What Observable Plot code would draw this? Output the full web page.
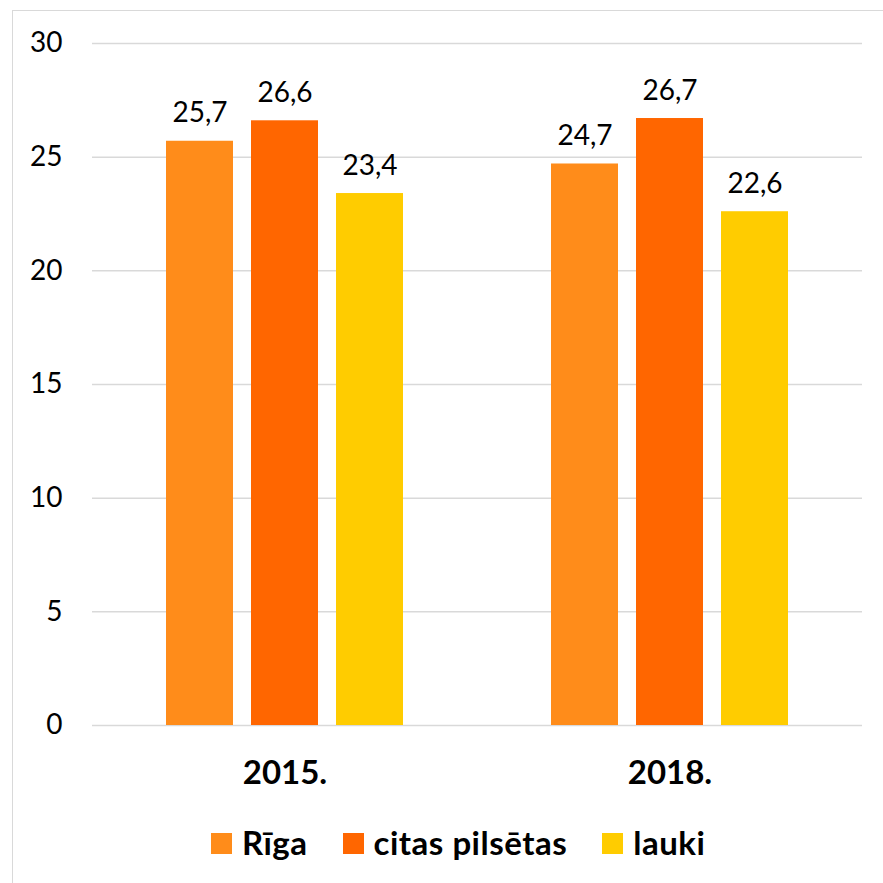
<!DOCTYPE html>
<html>
<head>
<meta charset="utf-8">
<script src="https://cdn.jsdelivr.net/npm/d3@7"></script>
<script src="https://cdn.jsdelivr.net/npm/@observablehq/plot@0.6"></script>
<style>
  html, body { margin: 0; padding: 0; background: #fff; }
  #wrap { position: relative; width: 883px; height: 883px; overflow: hidden; font-family: Lato, sans-serif; }
  #frame { position: absolute; left: 12px; top: 10px; width: 1000px; height: 1000px; border-left: 1.5px solid #d9d9d9; border-top: 1.5px solid #d9d9d9; }
  #chart { position: absolute; left: 0; top: 0; }
  #legend { position: absolute; left: 211px; top: 822px; display: flex; align-items: center; font-weight: bold; font-size: 33px; letter-spacing: 0.5px; line-height: 40px; color: #000; white-space: nowrap; }
  .item { display: flex; align-items: center; margin-right: 35px; }
  .sw { width: 21px; height: 21px; margin-right: 10px; position: relative; top: 1px; }
</style>
</head>
<body>
<div id="wrap">
  <div id="frame"></div>
  <div id="chart"></div>
  <div id="legend"></div>
</div>
<script>
const years = ["2015.", "2018."];
const series = ["Rīga", "citas pilsētas", "lauki"];
const riga = [25.7, 24.7];
const citas = [26.6, 26.7];
const lauki = [23.4, 22.6];
const colors = ["#FF8C1A", "#FF6600", "#FFCC00"];
const yTicks = [0, 5, 10, 15, 20, 25, 30];

const values = [riga, citas, lauki];
const data = years.flatMap((yr, i) => series.map((s, j) => ({year: yr, series: s, value: values[j][i]})));

const chart = Plot.plot({
  width: 883,
  height: 800,
  marginLeft: 91,
  marginRight: 21,
  marginTop: 43,
  marginBottom: 75,
  style: {fontFamily: "Lato, sans-serif", background: "transparent", color: "#000"},
  fx: {domain: years, padding: 0, label: null, axis: null},
  x: {domain: series, paddingInner: 0.21, paddingOuter: 0.864, axis: null},
  y: {domain: [0, 30], axis: null},
  color: {domain: series, range: colors},
  marks: [
    Plot.gridY(yTicks, {stroke: "#d9d9d9", strokeOpacity: 1, strokeWidth: 1.5}),
    Plot.axisY(yTicks, {tickSize: 0, tickPadding: 30, fontSize: 28, label: null, tickFormat: d => String(d), fill: "#000"}),
    Plot.axisFx({anchor: "bottom", tickSize: 0, tickPadding: 35, fontSize: 33, fontWeight: "bold", label: null, fill: "#000"}),
    Plot.barY(data, {fx: "year", x: "series", y: "value", fill: "series"}),
    Plot.text(data, {fx: "year", x: "series", y: "value", text: d => d.value.toFixed(1).replace(".", ","), lineAnchor: "bottom", dy: -19, fontSize: 28, fill: "#000"})
  ]
});
document.getElementById("chart").appendChild(chart);

const legend = document.getElementById("legend");
series.forEach((s, i) => {
  const item = document.createElement("div");
  item.className = "item";
  const sw = document.createElement("span");
  sw.className = "sw";
  sw.style.background = colors[i];
  const t = document.createElement("span");
  t.textContent = s;
  item.appendChild(sw);
  item.appendChild(t);
  legend.appendChild(item);
});
</script>
</body>
</html>
